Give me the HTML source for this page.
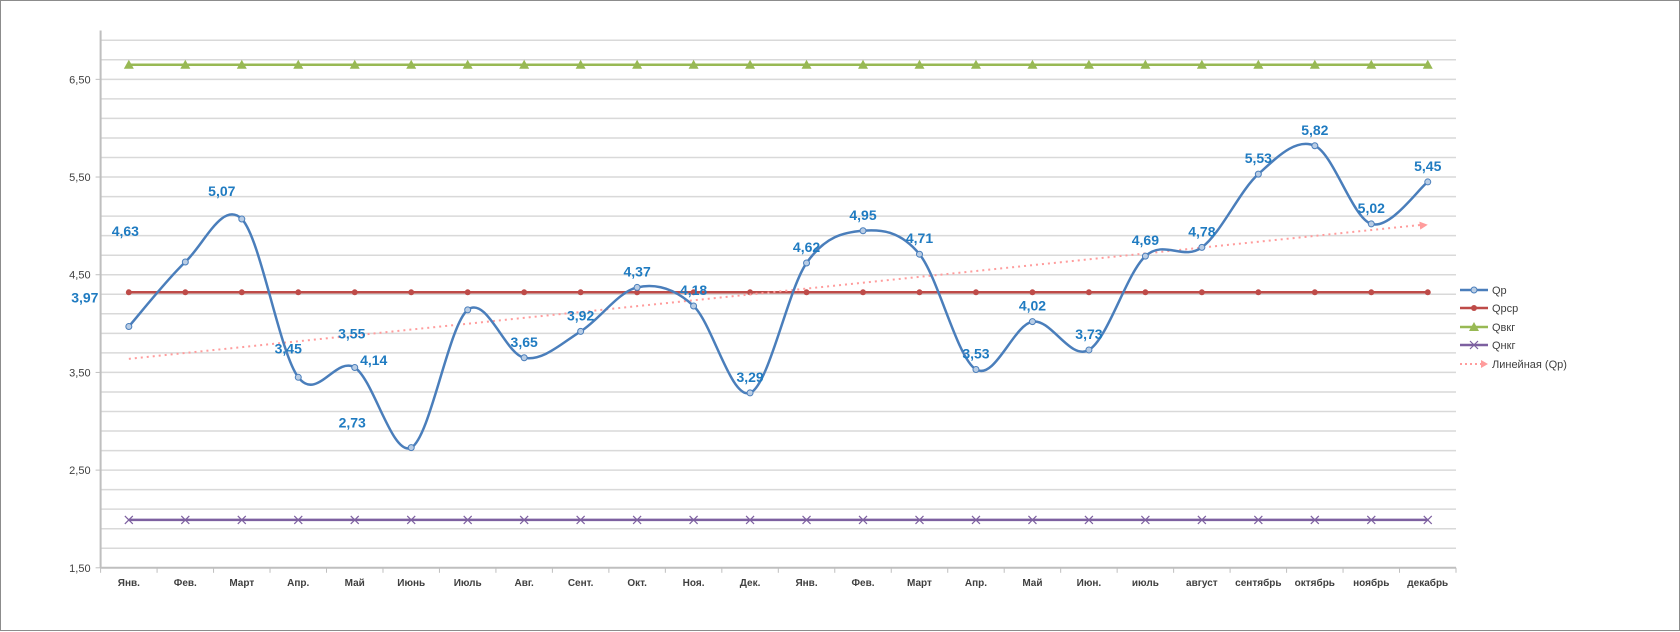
<!DOCTYPE html>
<html><head><meta charset="utf-8">
<style>
html,body{margin:0;padding:0;background:#fff;}
#wrap{position:relative;width:1680px;height:631px;box-sizing:border-box;border:1px solid #8c8c8c;background:#fff;}
svg{position:absolute;left:0;top:0;}
text{font-family:"Liberation Sans","DejaVu Sans",sans-serif;}
</style></head>
<body>
<div id="wrap">
<svg id="chart" width="1680" height="631"></svg>
</div>
<script>
const categories = ["Янв.","Фев.","Март","Апр.","Май","Июнь","Июль","Авг.","Сент.","Окт.","Ноя.","Дек.","Янв.","Фев.","Март","Апр.","Май","Июн.","июль","август","сентябрь","октябрь","ноябрь","декабрь"];
const qp = [3.97,4.63,5.07,3.45,3.55,2.73,4.14,3.65,3.92,4.37,4.18,3.29,4.62,4.95,4.71,3.53,4.02,3.73,4.69,4.78,5.53,5.82,5.02,5.45];
const qpLabels = ["3,97","4,63","5,07","3,45","3,55","2,73","4,14","3,65","3,92","4,37","4,18","3,29","4,62","4,95","4,71","3,53","4,02","3,73","4,69","4,78","5,53","5,82","5,02","5,45"];
const qsrValue = 4.32;
const qvkgValue = 6.65;
const qnkgValue = 1.99;
const yTicks = [1.5,2.5,3.5,4.5,5.5,6.5];
const yTickLabels = ["1,50","2,50","3,50","4,50","5,50","6,50"];

const NS="http://www.w3.org/2000/svg";
const svg=document.getElementById('chart');
const plotL=99.6, plotR=1455, yMin=1.5, yMax=7.0, yBot=566.8, yTop=29.5;
const cw=(plotR-plotL)/categories.length;
function xPos(i){return plotL+cw*(i+0.5);}
function yPos(v){return yBot-(v-yMin)/(yMax-yMin)*(yBot-yTop);}
function mk(tag,attrs,parent){const e=document.createElementNS(NS,tag);for(const k in attrs)e.setAttribute(k,attrs[k]);(parent||svg).appendChild(e);return e;}

// gridlines
const grid=mk('g',{});


for(let v=yMin+0.2;v<yMax-0.05;v+=0.2){
  mk('line',{x1:plotL,x2:plotR,y1:yPos(v),y2:yPos(v),stroke:'#d9d9d9','stroke-width':1.5},grid);
}
// axes
const ax=mk('line',{x1:plotL,x2:plotL,y1:yTop,y2:yBot,stroke:'#bfbfbf','stroke-width':2});


const xa=mk('line',{x1:plotL,x2:plotR,y1:yBot,y2:yBot,stroke:'#bfbfbf','stroke-width':2});


for(let i=0;i<=categories.length;i++){
  mk('line',{x1:plotL+cw*i,x2:plotL+cw*i,y1:yBot,y2:yBot+5,stroke:'#bfbfbf','stroke-width':1});
}
yTicks.forEach((v,i)=>{
  mk('line',{x1:plotL-5,x2:plotL,y1:yPos(v),y2:yPos(v),stroke:'#bfbfbf','stroke-width':1});
  const t=mk('text',{x:plotL-10,y:yPos(v)+4,'text-anchor':'end','font-size':11,fill:'#404040'});
  t.textContent=yTickLabels[i];
  
  
});
categories.forEach((c,i)=>{
  const t=mk('text',{x:xPos(i),y:yBot+18,'text-anchor':'middle','font-size':10,'font-weight':'bold',fill:'#404040'});
  t.textContent=c;
  
  
});

// constant series
function flat(val,color,marker,name){
  const g=mk('g',{});
  
  
  mk('line',{x1:xPos(0),x2:xPos(categories.length-1),y1:yPos(val),y2:yPos(val),stroke:color,'stroke-width':2.5},g);
  categories.forEach((c,i)=>{
    const x=xPos(i),y=yPos(val);
    if(marker==='dot')mk('circle',{cx:x,cy:y,r:3,fill:color},g);
    else if(marker==='tri')mk('polygon',{points:`${x},${y-5} ${x-5},${y+4} ${x+5},${y+4}`,fill:color},g);
    else if(marker==='x'){mk('path',{d:`M${x-4},${y-4}L${x+4},${y+4}M${x-4},${y+4}L${x+4},${y-4}`,stroke:color,'stroke-width':1.2},g);}
  });
}
flat(qvkgValue,'#98b954','tri','series-qvkg');
flat(qnkgValue,'#7d60a0','x','series-qnkg');
flat(qsrValue,'#be4b48','dot','series-qsr');

// trendline (linear regression)
const n=qp.length;let sx=0,sy=0,sxy=0,sxx=0;
qp.forEach((v,i)=>{sx+=i;sy+=v;sxy+=i*v;sxx+=i*i;});
const slope=(n*sxy-sx*sy)/(n*sxx-sx*sx), icpt=(sy-slope*sx)/n;
const tx1=xPos(0),ty1=yPos(icpt),tx2=xPos(n-1),ty2=yPos(icpt+slope*(n-1));
const tr=mk('line',{x1:tx1,y1:ty1,x2:tx2-6,y2:ty2,stroke:'#ff9c9c','stroke-width':2,'stroke-dasharray':'2 4'});


const ang=Math.atan2(ty2-ty1,tx2-tx1);
const ah=mk('polygon',{points:`${tx2},${ty2} ${tx2-8*Math.cos(ang)+4*Math.sin(ang)},${ty2-8*Math.sin(ang)-4*Math.cos(ang)} ${tx2-8*Math.cos(ang)-4*Math.sin(ang)},${ty2-8*Math.sin(ang)+4*Math.cos(ang)}`,fill:'#ff9c9c'});



// smooth Qp
const pts=qp.map((v,i)=>[xPos(i),yPos(v)]);
let d=`M${pts[0][0]},${pts[0][1]}`;
const tens=1/6;
for(let i=0;i<pts.length-1;i++){
  const p0=pts[Math.max(0,i-1)],p1=pts[i],p2=pts[i+1],p3=pts[Math.min(pts.length-1,i+2)];
  const c1=[p1[0]+(p2[0]-p0[0])*tens,p1[1]+(p2[1]-p0[1])*tens];
  const c2=[p2[0]-(p3[0]-p1[0])*tens,p2[1]-(p3[1]-p1[1])*tens];
  d+=`C${c1[0]},${c1[1]} ${c2[0]},${c2[1]} ${p2[0]},${p2[1]}`;
}
const qg=mk('g',{});


mk('path',{d:d,fill:'none',stroke:'#4a7ebb','stroke-width':2.5},qg);
pts.forEach(p=>{mk('circle',{cx:p[0],cy:p[1],r:3,fill:'#b9cde5',stroke:'#4a7ebb','stroke-width':1},qg);});

// data labels
const ldx=[-44,-60,-20,-10,-3,-59,-94];
const ldy=[-29,-31,-28,-29,-34,-25,50];
qp.forEach((v,i)=>{
  const dx=i<ldx.length?ldx[i]:0, dy=i<ldy.length?ldy[i]:-16;
  const t=mk('text',{x:xPos(i)+dx,y:yPos(v)+dy+5,'text-anchor':'middle','font-size':14,'font-weight':'bold',fill:'#1f7bc1'});
  t.textContent=qpLabels[i];
  
  
});

// legend
const leg=mk('g',{});


const legItems=[["Qp",'#4a7ebb','circ',289],["Qрср",'#be4b48','dot',307],["Qвкг",'#98b954','tri',326],["Qнкг",'#7d60a0','x',344],["Линейная (Qp)",'#ff9c9c','trend',363]];
legItems.forEach(it=>{
  const [name,col,m,y]=it;
  const g=mk('g',{},leg);
  
  
  const x1=1459,x2=1487,xm=1473;
  if(m==='trend'){
    mk('line',{x1:x1,x2:x2-6,y1:y,y2:y,stroke:col,'stroke-width':2,'stroke-dasharray':'2 3'},g);
    mk('polygon',{points:`${x2},${y} ${x2-7},${y-4} ${x2-7},${y+4}`,fill:col},g);
  } else {
    mk('line',{x1:x1,x2:x2,y1:y,y2:y,stroke:col,'stroke-width':2.5},g);
    if(m==='circ')mk('circle',{cx:xm,cy:y,r:3,fill:'#b9cde5',stroke:col},g);
    if(m==='dot')mk('circle',{cx:xm,cy:y,r:3,fill:col},g);
    if(m==='tri')mk('polygon',{points:`${xm},${y-5} ${xm-5},${y+4} ${xm+5},${y+4}`,fill:col},g);
    if(m==='x')mk('path',{d:`M${xm-4},${y-4}L${xm+4},${y+4}M${xm-4},${y+4}L${xm+4},${y-4}`,stroke:col,'stroke-width':1.2},g);
  }
  const t=mk('text',{x:1491,y:y+4,'font-size':11,fill:'#404040'},g);
  t.textContent=name;
});
</script>
</body></html>
